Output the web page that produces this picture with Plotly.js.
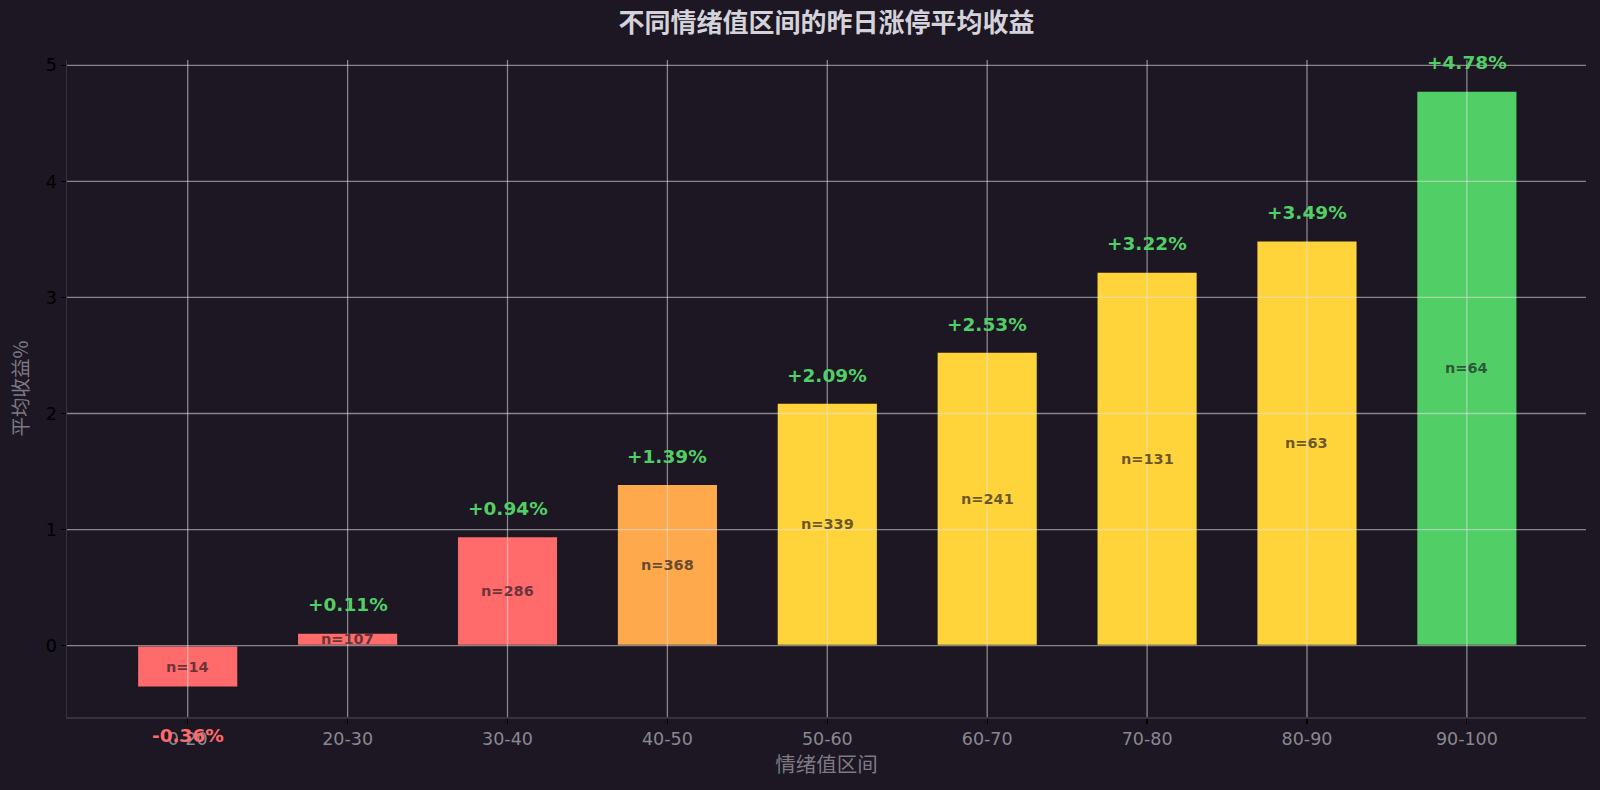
<!DOCTYPE html>
<html>
<head>
<meta charset="utf-8">
<script src="https://cdn.plot.ly/plotly-3.0.1.min.js"></script>
<style>
html,body{margin:0;padding:0;background:#1c1722;}
#chart{width:1600px;height:790px;}
</style>
</head>
<body>
<div id="chart"></div>
<script>
// ---- data ----
const categories = ['0-20','20-30','30-40','40-50','50-60','60-70','70-80','80-90','90-100'];
const avgReturn = [-0.36, 0.11, 0.94, 1.39, 2.09, 2.53, 3.22, 3.49, 4.78];
const sampleCount = [14, 107, 286, 368, 339, 241, 131, 63, 64];
const yTickVals = [0, 1, 2, 3, 4, 5];

// ---- styles ----
const BG = '#1c1722';
const FONT = 'DejaVu Sans, "Noto Sans CJK SC", sans-serif';
function barColor(v){
  if (v < 1) return '#ff6b6b';
  if (v < 2) return '#ffa94d';
  if (v < 4) return '#ffd43b';
  return '#51cf66';
}

const trace = {
  type: 'bar',
  x: categories,
  y: avgReturn,
  width: 0.63,
  marker: {color: avgReturn.map(barColor), line: {color: BG, width: 1.6}},
  hoverinfo: 'x+y',
  cliponaxis: false
};

const annotations = [];
avgReturn.forEach((v, i) => {
  annotations.push({
    x: categories[i], y: v,
    xref: 'x', yref: 'y', showarrow: false,
    yshift: v >= 0 ? 28 : -48,
    text: (v >= 0 ? '+' : '') + v.toFixed(2) + '%',
    font: {family: FONT, size: 18.5, color: v >= 0 ? '#51cf66' : '#ff6b6b', weight: 'bold'},
    xanchor: 'center', yanchor: 'middle'
  });
  annotations.push({
    x: categories[i], y: v / 2,
    xref: 'x', yref: 'y', showarrow: false,
    text: 'n=' + sampleCount[i],
    font: {family: FONT, size: 14.5, color: 'rgba(28,23,34,0.68)', weight: 'bold'},
    xanchor: 'center', yanchor: 'middle'
  });
});

// grid drawn above bars
const GRID = 'rgba(225,225,225,0.55)';
const shapes = [];
categories.forEach(c => shapes.push({
  type: 'line', layer: 'above', xref: 'x', yref: 'paper',
  x0: c, x1: c, y0: 0, y1: 1, line: {color: GRID, width: 1.3}
}));
yTickVals.forEach(t => shapes.push({
  type: 'line', layer: 'above', xref: 'paper', yref: 'y',
  x0: 0, x1: 1, y0: t, y1: t, line: {color: GRID, width: 1.3}
}));

const layout = {
  width: 1600, height: 790,
  paper_bgcolor: BG, plot_bgcolor: BG,
  margin: {l: 67, r: 14, t: 60, b: 73},
  font: {family: FONT},
  title: {
    text: '不同情绪值区间的昨日涨停平均收益',
    font: {family: '"Noto Sans CJK SC", DejaVu Sans, sans-serif', size: 26, color: '#d4d2da', weight: 'bold'},
    x: 0.5165, xanchor: 'center', y: 0.971, yanchor: 'middle'
  },
  xaxis: {
    type: 'category',
    range: [-0.755, 8.745],
    showgrid: false, zeroline: false,
    showline: true, linecolor: '#37313e', linewidth: 1.5,
    ticks: 'outside', ticklen: 5, tickcolor: '#000000', tickwidth: 1.2,
    tickfont: {family: FONT, size: 17.5, color: '#8a8791'},
    title: {text: '情绪值区间', font: {family: '"Noto Sans CJK SC", sans-serif', size: 20.5, color: '#7d7a85'}, standoff: 7}
  },
  yaxis: {
    range: [-0.615, 5.046],
    tickvals: yTickVals,
    showgrid: false, zeroline: false,
    showline: true, linecolor: '#37313e', linewidth: 1.5,
    ticks: 'outside', ticklen: 5, tickcolor: '#000000', tickwidth: 1.2,
    tickfont: {family: FONT, size: 17.5, color: '#000000'},
    title: {text: '平均收益%', font: {family: '"Noto Sans CJK SC", sans-serif', size: 19.5, color: '#7d7a85'}, standoff: 12}
  },
  showlegend: false,
  shapes: shapes,
  annotations: annotations
};

Plotly.newPlot('chart', [trace], layout, {displayModeBar: false, staticPlot: true});
</script>
</body>
</html>
